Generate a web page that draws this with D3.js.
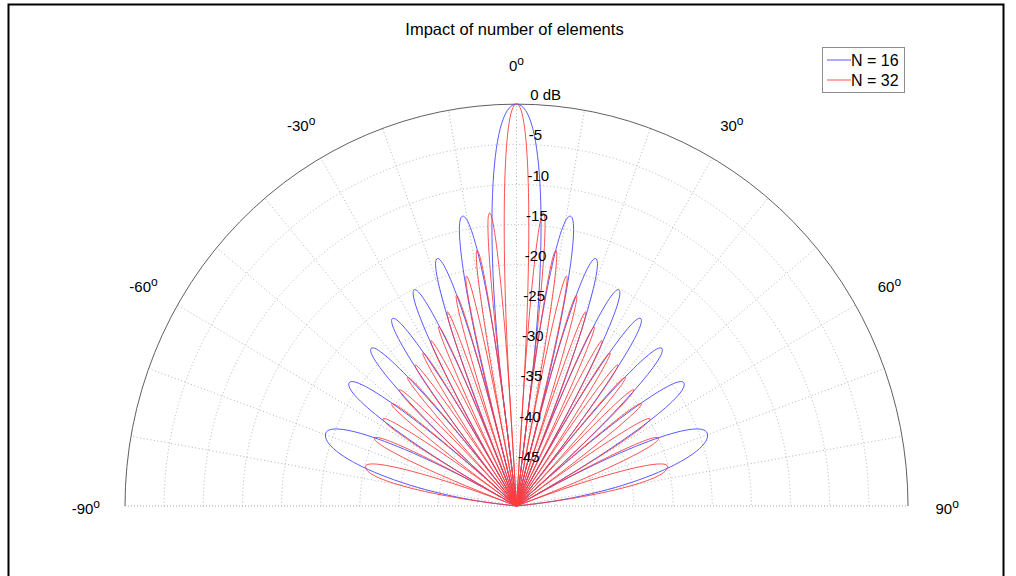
<!DOCTYPE html>
<html>
<head>
<meta charset="utf-8">
<script src="https://cdn.jsdelivr.net/npm/d3@7"></script>
<style>
  body { margin: 0; background: #fff; }
  text { font-family: "Liberation Sans", Arial, sans-serif; fill: #000; }
</style>
</head>
<body>
<div id="chart"></div>
<script>
// Chart values
// Lobe i of a pattern lies between nulls[i] and nulls[i + 1] (degrees);
// the outermost entries are where the last lobes leave the centre
var nulls16 = [-84.0, -61.0, -48.6, -38.7, -30.0, -22.0, -14.5, -7.2, 7.2, 14.5, 22.0, 30.0, 38.7, 48.6, 61.0, 84.0];
var peakAngles16 = [-69.6, -54.3, -43.4, -34.2, -25.9, -18.2, -10.8, 0, 10.8, 18.2, 25.9, 34.2, 43.4, 54.3, 69.6];
var peakLevels16 = [-24.0, -23.7, -23.0, -21.8, -20.1, -17.6, -13.3, 0, -13.3, -17.6, -20.1, -21.8, -23.0, -23.7, -24.0];

var nulls32 = [-84.0, -69.6, -61.0, -54.3, -48.6, -43.4, -38.7, -34.2, -30.0, -25.9, -22.0, -18.2, -14.5, -10.8, -7.2, -3.6,
  3.6, 7.2, 10.8, 14.5, 18.2, 22.0, 25.9, 30.0, 34.2, 38.7, 43.4, 48.6, 54.3, 61.0, 69.6, 84.0];
var peakAngles32 = [-75.6, -65.0, -57.5, -51.4, -46.0, -41.0, -36.4, -32.1, -28.0, -24.0, -20.1, -16.3, -12.6, -9.0, -5.4, 0,
  5.4, 9.0, 12.6, 16.3, 20.1, 24.0, 28.0, 32.1, 36.4, 41.0, 46.0, 51.4, 57.5, 65.0, 75.6];
var peakLevels32 = [-30.1, -30.0, -29.8, -29.6, -29.2, -28.8, -28.2, -27.5, -26.7, -25.6, -24.3, -22.7, -20.7, -17.8, -13.4, 0,
  -13.4, -17.8, -20.7, -22.7, -24.3, -25.6, -26.7, -27.5, -28.2, -28.8, -29.2, -29.6, -29.8, -30.0, -30.1];

var seriesNames = ["N = 16", "N = 32"];
var seriesColors = ["#4646ff", "#ff3c3c"];

var ringLevels = [-45, -40, -35, -30, -25, -20, -15, -10, -5];
var ringLabels = ["-45", "-40", "-35", "-30", "-25", "-20", "-15", "-10", "-5", "0 dB"];
var labelLevels = [-45, -40, -35, -30, -25, -20, -15, -10, -5, 0];
var spokeAngles = [-80, -70, -60, -50, -40, -30, -20, -10, 0, 10, 20, 30, 40, 50, 60, 70, 80];
var angleTicks = [-90, -60, -30, 0, 30, 60, 90];

// SVG area
var svgWidth = 1016;
var svgHeight = 576;

// Polar frame: centre and the two radii of the (slightly squeezed) half disc
var cx = 516.5;
var cy = 506;
var rx = 391.5;
var ry = 402;

var svg = d3.select("#chart")
  .append("svg")
  .attr("width", svgWidth)
  .attr("height", svgHeight);

// dB -> fraction of the outer radius
var rScale = d3.scaleLinear()
  .domain([-50, 0])
  .range([0, 1])
  .clamp(true);

var rad = Math.PI / 180;

// normalised (x right, y up) -> pixels
function toPx(p) {
  return [cx + rx * p[0], cy - ry * p[1]];
}
function unit(angle, f) {
  return [f * Math.sin(angle * rad), f * Math.cos(angle * rad)];
}

// Outer figure frame
svg.append("rect")
  .attr("x", 8.5)
  .attr("y", 4.5)
  .attr("width", 995)
  .attr("height", 620)
  .attr("fill", "none")
  .attr("stroke", "#000")
  .attr("stroke-width", 2);

var grid = svg.append("g");

// Dotted rings
grid.selectAll(".ring")
  .data(ringLevels)
  .enter()
  .append("path")
  .attr("d", function(d) {
    var f = rScale(d);
    var a = toPx(unit(-90, f));
    var b = toPx(unit(90, f));
    return "M" + a[0] + "," + a[1] + " A" + (rx * f) + "," + (ry * f) + " 0 0 1 " + b[0] + "," + b[1];
  })
  .attr("fill", "none")
  .attr("stroke", "#b4b4b4")
  .attr("stroke-dasharray", "1,2.5");

// Dotted spokes
grid.selectAll(".spoke")
  .data(spokeAngles)
  .enter()
  .append("line")
  .attr("x1", cx)
  .attr("y1", cy)
  .attr("x2", d => toPx(unit(d, 1))[0])
  .attr("y2", d => toPx(unit(d, 1))[1])
  .attr("stroke", "#b4b4b4")
  .attr("stroke-dasharray", "1,2.5");

// Baseline (the +-90 spokes)
grid.append("line")
  .attr("x1", toPx(unit(-90, 1))[0])
  .attr("y1", cy)
  .attr("x2", toPx(unit(90, 1))[0])
  .attr("y2", cy)
  .attr("stroke", "#a0a0a0")
  .attr("stroke-dasharray", "1,2");

// Solid outer arc (0 dB)
var left = toPx(unit(-90, 1));
var right = toPx(unit(90, 1));
grid.append("path")
  .attr("d", "M" + left[0] + "," + left[1] + " A" + rx + "," + ry + " 0 0 1 " + right[0] + "," + right[1])
  .attr("fill", "none")
  .attr("stroke", "#606060")
  .attr("stroke-width", 1);

// One petal: origin -> along the first null -> peak -> along the second null -> origin
var k = 0.5523;
function lobeSide(nullAngle, peakAngle, rp, depth) {
  var a = Math.max(rp - depth, 0);
  // wide sides (last lobes) bend in sooner
  var k2 = Math.abs(nullAngle - peakAngle) > 10 ? 0.4 : k;
  return {
    A: unit(nullAngle, a),
    C1: unit(nullAngle, a + k * (rp - a)),
    C2: unit(peakAngle + k2 * (nullAngle - peakAngle), rp)
  };
}

function lobePath(n0, n1, peakAngle, peakLevel) {
  var rp = rScale(peakLevel);
  var depth = peakLevel === 0 ? 0.75 : 0.5;
  var s0 = lobeSide(n0, peakAngle, rp, depth);
  var s1 = lobeSide(n1, peakAngle, rp, depth);
  var T = toPx(unit(peakAngle, rp));
  var O = toPx([0, 0]);
  var p = d3.path();
  p.moveTo(O[0], O[1]);
  var a0 = toPx(s0.A);
  p.lineTo(a0[0], a0[1]);
  var c1 = toPx(s0.C1), c2 = toPx(s0.C2);
  p.bezierCurveTo(c1[0], c1[1], c2[0], c2[1], T[0], T[1]);
  var d2 = toPx(s1.C2), d1 = toPx(s1.C1), a1 = toPx(s1.A);
  p.bezierCurveTo(d2[0], d2[1], d1[0], d1[1], a1[0], a1[1]);
  p.lineTo(O[0], O[1]);
  return p.toString();
}

function drawPattern(nulls, angles, levels, color) {
  svg.append("g")
    .selectAll("path")
    .data(angles)
    .enter()
    .append("path")
    .attr("d", (d, i) => lobePath(nulls[i], nulls[i + 1], d, levels[i]))
    .attr("fill", "none")
    .attr("stroke", color)
    .attr("stroke-width", 0.9)
    .attr("stroke-linejoin", "round");
}

drawPattern(nulls16, peakAngles16, peakLevels16, seriesColors[0]);
drawPattern(nulls32, peakAngles32, peakLevels32, seriesColors[1]);

// Radial (dB) labels, just above each ring, slightly right of 0 deg
svg.selectAll(".rlabel")
  .data(labelLevels)
  .enter()
  .append("text")
  .attr("x", d => toPx(unit(2, rScale(d)))[0])
  .attr("y", d => toPx(unit(2, rScale(d)))[1] - 4)
  .attr("font-size", 15)
  .text((d, i) => ringLabels[i]);

// Angle labels with superscript degree mark
var angleLabels = svg.selectAll(".alabel")
  .data(angleTicks)
  .enter()
  .append("text")
  .attr("x", d => toPx(unit(d, 1.1))[0])
  .attr("y", d => toPx(unit(d, 1.1))[1] + 7.5)
  .attr("text-anchor", "middle")
  .attr("font-size", 15);
angleLabels.append("tspan").text(d => d);
angleLabels.append("tspan")
  .attr("font-size", 12)
  .attr("dy", -6)
  .text("o");

// Title
svg.append("text")
  .attr("x", 514.5)
  .attr("y", 34.5)
  .attr("text-anchor", "middle")
  .attr("font-size", 16.5)
  .text("Impact of number of elements");

// Legend
var legend = svg.append("g");
legend.append("rect")
  .attr("x", 822.5)
  .attr("y", 47.5)
  .attr("width", 82)
  .attr("height", 45)
  .attr("fill", "#fff")
  .attr("stroke", "#8c8c8c");

var items = legend.selectAll(".item")
  .data(seriesNames)
  .enter()
  .append("g")
  .attr("transform", (d, i) => `translate(0, ${60 + i * 20})`);
items.append("line")
  .attr("x1", 827)
  .attr("x2", 851)
  .attr("y1", 0)
  .attr("y2", 0)
  .attr("stroke", (d, i) => seriesColors[i])
  .attr("stroke-width", 0.9);
items.append("text")
  .attr("x", 851)
  .attr("y", 5.5)
  .attr("font-size", 16)
  .text(d => d);
</script>
</body>
</html>
